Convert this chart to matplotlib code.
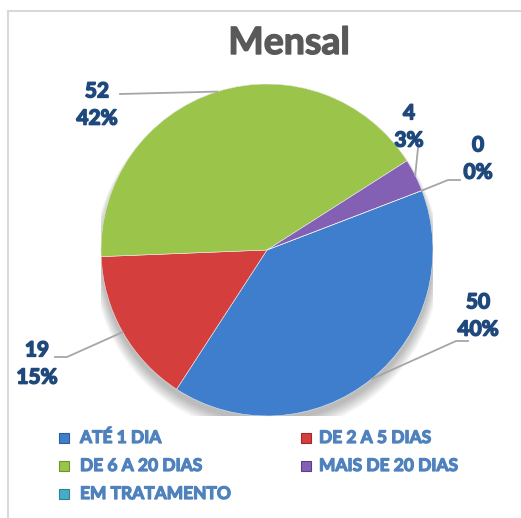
import numpy as np
import matplotlib
matplotlib.use('Agg')
import matplotlib.pyplot as plt
import matplotlib.patches as mpatches
import matplotlib.patheffects as pe
from matplotlib.lines import Line2D

W, H = 521, 518

categories = ["ATÉ 1 DIA", "DE 2 A 5 DIAS", "DE 6 A 20 DIAS", "MAIS DE 20 DIAS", "EM TRATAMENTO"]
values     = [50, 19, 52, 4, 0]
colors     = ["#3F7ECC", "#D43F3E", "#9BC44A", "#8460B4", "#47ACC6"]
edge_dark  = ["#2B5C9C", "#A02A2A", "#6E9230", "#5D3F86", "#2F8099"]

# label anchor (text center, px) and leader elbow points (px) for each slice
label_pos = [(478, 316), (37, 364), (97, 105), (409, 127), (478, 159)]
leader_pts = [[(468, 341), (456, 341)],
              [(55, 357), (67, 357)],
              [(120, 94)],
              [(418, 148)],
              [(460, 180), (448, 180)]]

LABEL_COLOR  = "#1F497D"
LEGEND_COLOR = "#4F81BD"
FONT = "Lato"

fig = plt.figure(figsize=(W / 100, H / 100), dpi=100)
fig.patch.set_facecolor("white")

# light frame (top and left edges visible)
fig.add_artist(Line2D([8 / W, 1], [1 - 10.5 / H, 1 - 10.5 / H], color="#D9D9D9", lw=1.5))
fig.add_artist(Line2D([8 / W, 8 / W], [0, 1 - 10.5 / H], color="#D9D9D9", lw=1.5))

fig.text(289 / W, 1 - 43 / H, "Mensal", ha="center", va="center",
         fontsize=27, fontweight="bold", color="#595959", family=FONT,
         path_effects=[pe.withStroke(linewidth=1.0, foreground="#595959")])

cx, cy, R = 267, 250, 166
ax = fig.add_axes([(cx - R) / W, (H - cy - R) / H, 2 * R / W, 2 * R / H])
ax.set_xlim(-1, 1); ax.set_ylim(-1, 1)
ax.axis("off")

# soft shadow under the pie
for k in range(8):
    ax.add_patch(mpatches.Circle((0.0, -0.035 - k * 0.004), 1.0 + k * 0.006,
                                 color="#000000", alpha=0.035, lw=0, zorder=0))

total = sum(values)
wedges, _ = ax.pie(values, colors=colors, startangle=21, counterclock=False,
                   radius=1, wedgeprops=dict(lw=0.4, edgecolor="#F0F0F0"))
for w in wedges:
    w.set_zorder(2)

# darker rim to hint the bevel
ax.pie(values, colors=edge_dark, startangle=21, counterclock=False, radius=1,
       wedgeprops=dict(width=0.025, lw=0, alpha=0.55))
ax.set_xlim(-1, 1); ax.set_ylim(-1, 1)

def px2d(p):
    return ((p[0] - cx) / R, (cy - p[1]) / R)

for i, w in enumerate(wedges):
    theta = np.deg2rad((w.theta1 + w.theta2) / 2)
    edge = (np.cos(theta), np.sin(theta))
    pts = [px2d(p) for p in leader_pts[i]] + [edge]
    xs, ys = zip(*pts)
    ax.plot(xs, ys, color="#A6A6A6", lw=1.3, clip_on=False, zorder=3)
    pct = round(values[i] / total * 100)
    lx, ly = label_pos[i]
    fig.text(lx / W, 1 - ly / H, f"{values[i]}\n{pct}%", ha="center", va="center",
             fontsize=15, fontweight="bold", color=LABEL_COLOR, family=FONT,
             linespacing=1.45,
             path_effects=[pe.withStroke(linewidth=1.1, foreground=LABEL_COLOR)])

# legend
leg_cols = [(64, 80), (306, 319)]
leg_rows = [438, 466, 494]
for i, cat in enumerate(categories):
    mx, tx = leg_cols[i % 2]
    ty = leg_rows[i // 2]
    fig.add_artist(mpatches.Rectangle(((mx - 5) / W, 1 - (ty + 5) / H), 10 / W, 10 / H,
                                      facecolor=colors[i], edgecolor=edge_dark[i], lw=0.8))
    fig.text(tx / W, 1 - ty / H, cat, ha="left", va="center", fontsize=12.5,
             fontweight="bold", color=LEGEND_COLOR, family=FONT,
             path_effects=[pe.withStroke(linewidth=0.9, foreground=LEGEND_COLOR)])

plt.savefig("out.png", dpi=100)
plt.close()
